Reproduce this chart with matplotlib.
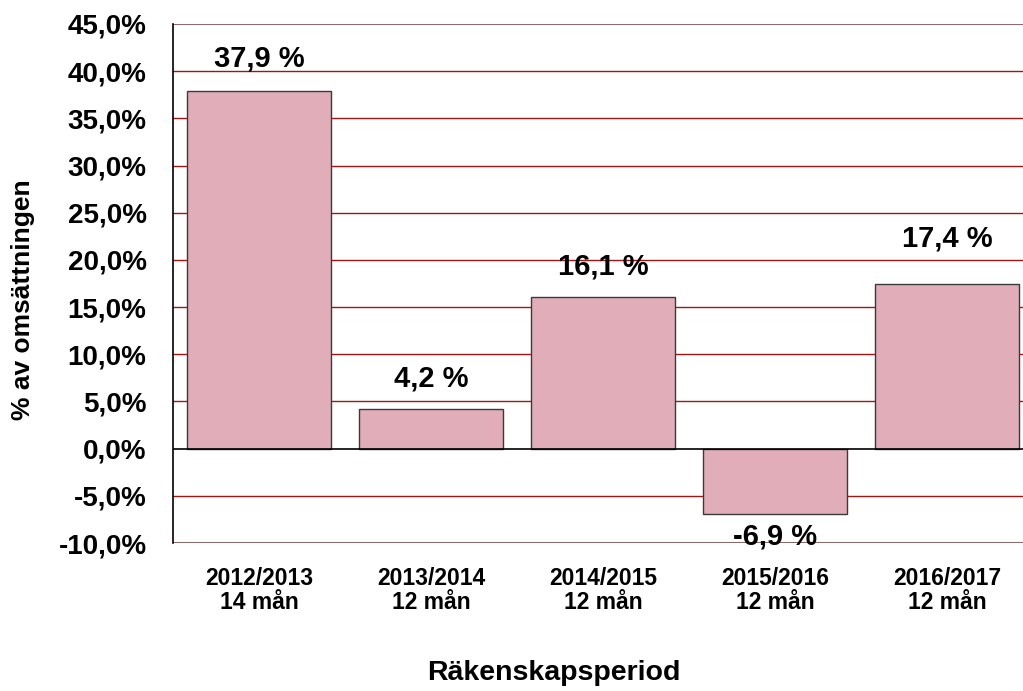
import numpy as np
import matplotlib.pyplot as plt

plt.rcParams['font.family'] = ['Liberation Sans', 'DejaVu Sans']
plt.rcParams['font.weight'] = 'bold'

# data
perioder = ["2012/2013\n14 mån", "2013/2014\n12 mån", "2014/2015\n12 mån",
            "2015/2016\n12 mån", "2016/2017\n12 mån"]
andel = [37.9, 4.2, 16.1, -6.9, 17.4]
etiketter = ["37,9 %", "4,2 %", "16,1 %", "-6,9 %", "17,4 %"]
y_ticks = [-10, -5, 0, 5, 10, 15, 20, 25, 30, 35, 40, 45]

# label offsets (points) from bar end
offsets = [13, 12, 12, -6, 23]

fig = plt.figure(figsize=(10.23, 6.91), dpi=100)
ax = fig.add_axes([173 / 1023, 148 / 691, 860 / 1023, 519 / 691])

x = np.arange(len(perioder))
ax.bar(x, andel, width=0.837, color="#E0ADB8", edgecolor="#3A3A3A",
       linewidth=1.0, zorder=3)

ax.set_xlim(-0.5, 4.5)
ax.set_ylim(-10, 45)

for v in y_ticks:
    if v == 0:
        ax.axhline(v, color="black", linewidth=1.2, zorder=4)
    elif v in (-10, 45):
        ax.axhline(v, color="#8A6A6A", linewidth=1.5, zorder=1)
    else:
        ax.axhline(v, color="#A31515", linewidth=1.0, zorder=1)

for i, v in enumerate(andel):
    off = offsets[i]
    ax.annotate(etiketter[i], (x[i], v), xytext=(0, off),
                textcoords="offset points", ha="center",
                va="bottom" if v >= 0 else "top",
                fontsize=21, fontweight="bold", zorder=5)

ax.set_yticks(y_ticks)
ax.set_yticklabels([f"{v:.1f}%".replace(".", ",") for v in y_ticks],
                   fontsize=20, fontweight="bold")
ax.set_xticks(x)
ax.set_xticklabels(perioder, fontsize=16.5, fontweight="bold", linespacing=1.05)
ax.tick_params(axis="both", length=0)
ax.tick_params(axis="y", pad=19)
ax.tick_params(axis="x", pad=17)

for s in ["top", "right", "bottom"]:
    ax.spines[s].set_visible(False)
ax.spines["left"].set_color("black")
ax.spines["left"].set_linewidth(1.2)

fig.text(23 / 1023, 1 - 300 / 691, "% av omsättningen", rotation=90,
         ha="center", va="center", fontsize=19, fontweight="bold")
fig.text(554 / 1023, 1 - 673 / 691, "Räkenskapsperiod",
         ha="center", va="center", fontsize=20.5, fontweight="bold")

fig.savefig("out.png", dpi=100)
